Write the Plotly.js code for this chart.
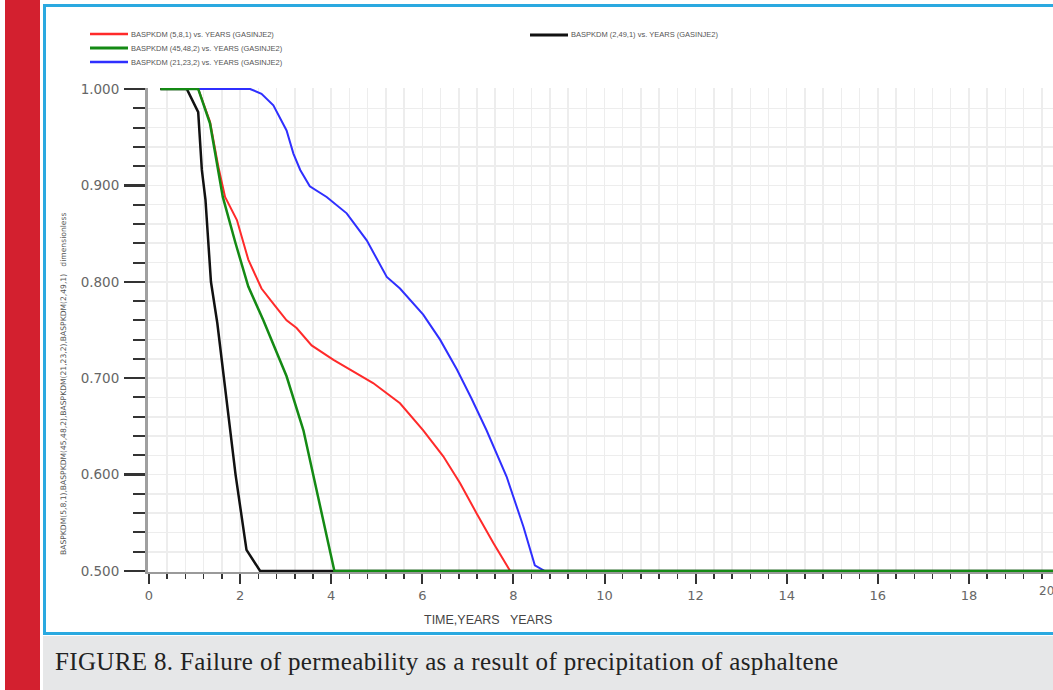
<!DOCTYPE html>
<html><head><meta charset="utf-8">
<script src="https://cdn.plot.ly/plotly-3.0.1.min.js"></script>
<style>
html,body{margin:0;padding:0;background:#fff;overflow:hidden;}
#wrap{position:relative;width:1053px;height:690px;overflow:hidden;background:#fff;}
#red{position:absolute;left:5px;top:0;width:35px;height:690px;background:#d3202f;}
#box{position:absolute;left:43px;top:4px;width:1100px;height:631px;border:3px solid #2aa9e0;box-sizing:border-box;}
#cap{position:absolute;left:43px;top:636px;width:1010px;height:54px;background:#e6e7e8;font-family:'Liberation Serif',serif;font-size:25px;letter-spacing:0.35px;line-height:52px;color:#222;padding-left:12px;box-sizing:border-box;white-space:nowrap;}
#plot{position:absolute;left:0;top:0;width:1053px;height:690px;}
</style></head>
<body><div id="wrap">
<div id="red"></div><div id="box"></div>
<div id="cap">FIGURE 8. Failure of permeability as a result of precipitation of asphaltene</div>
<div id="plot"></div>
</div>
<script>
// ---- data (years vs dimensionless BASPKDM) ----
const redX   = [0.25,1.08,1.34,1.52,1.67,1.93,2.18,2.47,2.75,3.02,3.24,3.57,4.05,4.5,4.92,5.51,6.02,6.46,6.83,7.19,7.56,7.93,20];
const redY   = [1,1,0.966,0.92,0.888,0.864,0.823,0.793,0.776,0.760,0.752,0.734,0.719,0.707,0.695,0.674,0.646,0.619,0.591,0.560,0.529,0.5,0.5];
const greenX = [0.25,1.08,1.34,1.52,1.62,1.9,2.18,2.51,2.75,3.02,3.39,3.75,4.07,20];
const greenY = [1,1,0.964,0.916,0.888,0.84,0.795,0.76,0.733,0.702,0.646,0.57,0.5,0.5];
const blueX  = [0.25,2.22,2.47,2.73,3.02,3.17,3.32,3.53,3.9,4.34,4.78,5.22,5.51,6.02,6.39,6.76,7.08,7.41,7.85,8.22,8.47,8.69,20];
const blueY  = [1,1,0.995,0.983,0.957,0.933,0.916,0.899,0.888,0.871,0.843,0.805,0.793,0.766,0.740,0.709,0.679,0.646,0.598,0.546,0.506,0.5,0.5];
const blackX = [0.25,0.83,1.08,1.16,1.24,1.36,1.5,1.7,1.9,2.14,2.44,20];
const blackY = [1,1,0.976,0.916,0.885,0.80,0.757,0.68,0.60,0.522,0.5,0.5];

const names = {
  red:   'BASPKDM (5,8,1) vs. YEARS (GASINJE2)',
  green: 'BASPKDM (45,48,2) vs. YEARS (GASINJE2)',
  blue:  'BASPKDM (21,23,2) vs. YEARS (GASINJE2)',
  black: 'BASPKDM (2,49,1) vs. YEARS (GASINJE2)'
};
const colors = {red:'#ff2a2a', green:'#148a14', blue:'#2f2fff', black:'#111111'};
const xTitle = 'TIME,YEARS   YEARS';
const yTitle = 'BASPKDM(5,8,1),BASPKDM(45,48,2),BASPKDM(21,23,2),BASPKDM(2,49,1)   dimensionless';

// ---- layout helpers (pixel -> paper) ----
const W=1053,H=690,ML=148,MR=0,MT=88,MB=118;
const PW=W-ML-MR, PH=H-MT-MB;
const px=v=>(v-ML)/PW, py=v=>(H-MB-v)/PH;

const mk=(x,y,c,w)=>({x:x,y:y,type:'scatter',mode:'lines',line:{color:c,width:w},hoverinfo:'skip',showlegend:false});
const traces=[
  mk(blueX,blueY,colors.blue,2),
  mk(redX,redY,colors.red,2),
  mk(blackX,blackY,colors.black,2.5),
  mk(greenX,greenY,colors.green,2.5)
];

const legendItems=[
  {k:'red',x:90,y:34},{k:'green',x:90,y:48},{k:'blue',x:90,y:62},{k:'black',x:530,y:35}
];
const shapes=[], annotations=[];
legendItems.forEach(it=>{
  shapes.push({type:'line',xref:'paper',yref:'paper',x0:px(it.x),x1:px(it.x+38),y0:py(it.y),y1:py(it.y),line:{color:colors[it.k],width:it.k==='red'||it.k==='blue'?2.5:3}});
  annotations.push({xref:'paper',yref:'paper',x:px(it.x+39),y:py(it.y),xanchor:'left',yanchor:'middle',showarrow:false,text:names[it.k],font:{family:'Liberation Sans, Arial',size:7.5,color:'#555'}});
});
annotations.push({xref:'paper',yref:'paper',x:px(488),y:py(620),xanchor:'center',yanchor:'middle',showarrow:false,text:xTitle,font:{family:'Liberation Sans, Arial',size:12.5,color:'#444'}});
annotations.push({xref:'paper',yref:'paper',x:px(63),y:py(384),xanchor:'center',yanchor:'middle',textangle:-90,showarrow:false,text:yTitle,font:{family:'DejaVu Sans',size:7.6,color:'#555'}});
annotations.push({xref:'paper',yref:'paper',x:px(1037),y:py(591),xanchor:'left',yanchor:'middle',showarrow:false,text:'20',font:{family:'DejaVu Sans',size:12,color:'#666'}});

const layout={
  width:W,height:H,margin:{l:ML,r:MR,t:MT,b:MB,pad:0},
  paper_bgcolor:'rgba(0,0,0,0)',plot_bgcolor:'#ffffff',
  showlegend:false,
  xaxis:{range:[-0.022,19.846],tick0:0,dtick:2,ticks:'outside',ticklen:10,tickwidth:2,tickcolor:'#333',
    showline:true,linecolor:'#9a9a9a',linewidth:2,showgrid:true,gridcolor:'#ededed',gridwidth:1.5,zeroline:false,
    tickfont:{family:'DejaVu Sans',size:13,color:'#666'},
    minor:{dtick:0.4,tick0:0,ticks:'outside',ticklen:5,tickwidth:1.5,tickcolor:'#333',showgrid:true,gridcolor:'#ededed',gridwidth:1.5}},
  yaxis:{range:[0.499,1.001],tick0:0.5,dtick:0.1,tickformat:'.3f',ticks:'outside',ticklen:21,tickwidth:2.5,tickcolor:'#333',
    showline:true,linecolor:'#a0a0a0',linewidth:3,showgrid:true,gridcolor:'#ededed',gridwidth:1.5,zeroline:false,
    tickfont:{family:'DejaVu Sans',size:13.5,color:'#666'},ticklabelstandoff:2,
    minor:{dtick:0.02,tick0:0.5,ticks:'outside',ticklen:12,tickwidth:2,tickcolor:'#333',showgrid:true,gridcolor:'#ededed',gridwidth:1.5}},
  shapes:shapes,annotations:annotations
};
Plotly.newPlot('plot',traces,layout,{staticPlot:true,displayModeBar:false});
</script>
</body></html>
